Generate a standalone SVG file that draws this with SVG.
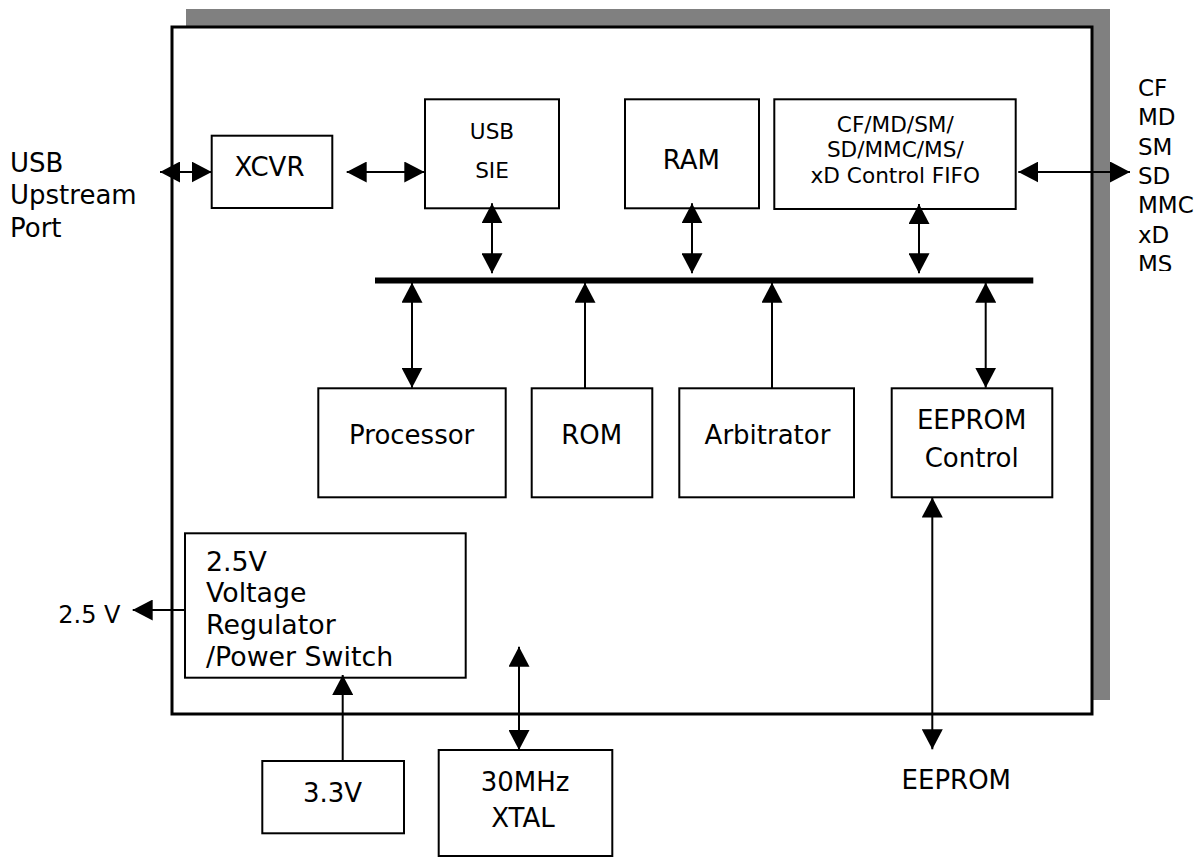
<svg xmlns="http://www.w3.org/2000/svg" width="1202" height="858" viewBox="0 0 1202 858">
<defs>
<style>
text{font-family:"DejaVu Sans","Verdana",sans-serif;fill:#000}
.t26{font-size:26px}
.t27{font-size:26.8px}
.t24{font-size:24px}
.t23{font-size:23px}
.t21{font-size:21.6px}
.c{text-anchor:middle}
.box{fill:#fff;stroke:#000;stroke-width:2}
.ln{fill:none;stroke:#000;stroke-width:2}
.a2{marker-start:url(#ah);marker-end:url(#ah)}
.a1{marker-end:url(#ah)}
</style>
<marker id="ah" markerUnits="userSpaceOnUse" markerWidth="20" markerHeight="21" viewBox="0 0 20 21" refX="20" refY="10.5" orient="auto-start-reverse">
<path d="M0,0 L20,10.5 L0,21 z" fill="#000"/>
</marker>
<clipPath id="clipR"><rect x="1120" y="60" width="82" height="211"/></clipPath>
</defs>

<g id="chip">
<rect x="186" y="9" width="924" height="691" fill="#808080"/>
<rect x="172" y="27" width="920" height="687" fill="#fff" stroke="#000" stroke-width="3"/>
</g>

<g id="usb-port-label">
<text class="t26" x="10" y="171.7">USB</text>
<text class="t26" x="10" y="204">Upstream</text>
<text class="t26" x="10" y="236.7">Port</text>
</g>

<g id="xcvr">
<rect class="box" x="211.7" y="135.7" width="120.6" height="72.3"/>
<text class="t26 c" x="269.5" y="176">XCVR</text>
</g>

<g id="usb-sie">
<rect class="box" x="425" y="99.3" width="134" height="109"/>
<text class="t21 c" x="492" y="139.3">USB</text>
<text class="t21 c" x="492" y="177.7">SIE</text>
</g>

<g id="ram">
<rect class="box" x="625" y="99.3" width="134" height="109"/>
<text class="t26 c" x="691.3" y="169.3">RAM</text>
</g>

<g id="fifo">
<rect class="box" x="774.3" y="99.3" width="241.4" height="109.7"/>
<text class="t21 c" x="895.3" y="131.5">CF/MD/SM/</text>
<text class="t21 c" x="895.3" y="157">SD/MMC/MS/</text>
<text class="t21 c" x="895.3" y="182.5">xD Control FIFO</text>
</g>

<g id="card-labels" clip-path="url(#clipR)">
<text class="t23" x="1138" y="96">CF</text>
<text class="t23" x="1138" y="125">MD</text>
<text class="t23" x="1138" y="155">SM</text>
<text class="t23" x="1138" y="184.3">SD</text>
<text class="t23" x="1138" y="213.3">MMC</text>
<text class="t23" x="1138" y="242.7">xD</text>
<text class="t23" x="1138" y="272">MS</text>
</g>

<g id="processor">
<rect class="box" x="318.3" y="388.3" width="187.4" height="109"/>
<text class="t26 c" x="411.7" y="444">Processor</text>
</g>

<g id="rom">
<rect class="box" x="531.7" y="388.3" width="120.6" height="109"/>
<text class="t26 c" x="591.7" y="444">ROM</text>
</g>

<g id="arbitrator">
<rect class="box" x="679.3" y="388.3" width="174.7" height="109"/>
<text class="t26 c" x="767.5" y="444">Arbitrator</text>
</g>

<g id="eeprom-control">
<rect class="box" x="891.7" y="388.3" width="160.6" height="109"/>
<text class="t26 c" x="971.7" y="429.3">EEPROM</text>
<text class="t26 c" x="971.7" y="466.7">Control</text>
</g>

<g id="regulator">
<rect class="box" x="185" y="533.3" width="280.7" height="144.4"/>
<text class="t27" x="206" y="571">2.5V</text>
<text class="t27" x="206" y="602">Voltage</text>
<text class="t27" x="206" y="634">Regulator</text>
<text class="t27" x="206" y="666">/Power Switch</text>
</g>

<g id="v25-label">
<text class="t24" x="58.3" y="622.7">2.5 V</text>
</g>

<g id="v33">
<rect class="box" x="262.3" y="761" width="141.7" height="72.3"/>
<text class="t26 c" x="332.5" y="801.7">3.3V</text>
</g>

<g id="xtal">
<rect class="box" x="438.7" y="750" width="173.6" height="106"/>
<text class="t26 c" x="525" y="790.7">30MHz</text>
<text class="t26 c" x="523" y="827.3">XTAL</text>
</g>

<g id="eeprom-label">
<text class="t26 c" x="956.3" y="789.3">EEPROM</text>
</g>

<g id="connectors">
<line x1="375" y1="280.5" x2="1033.3" y2="280.5" stroke="#000" stroke-width="6"/>
<line class="ln a2" x1="160" y1="172" x2="211.7" y2="172"/>
<line class="ln a2" x1="346.7" y1="172" x2="424.3" y2="172"/>
<line class="ln a2" x1="1018.3" y1="172" x2="1130" y2="172"/>
<line class="ln a2" x1="492" y1="203.3" x2="492" y2="273.3"/>
<line class="ln a2" x1="692" y1="203.3" x2="692" y2="273.3"/>
<line class="ln a2" x1="919" y1="204" x2="919" y2="273.3"/>
<line class="ln a2" x1="412" y1="282.7" x2="412" y2="387.7"/>
<line class="ln a1" x1="585" y1="388.3" x2="585" y2="282.7"/>
<line class="ln a1" x1="772" y1="388.3" x2="772" y2="282.7"/>
<line class="ln a2" x1="985.7" y1="282.7" x2="985.7" y2="387.7"/>
<line class="ln a2" x1="932.3" y1="497.5" x2="932.3" y2="749.3"/>
<line class="ln a1" x1="185" y1="610" x2="132.7" y2="610"/>
<line class="ln a1" x1="342.7" y1="761" x2="342.7" y2="675"/>
<line class="ln a2" x1="519" y1="646.7" x2="519" y2="750"/>
</g>
</svg>
